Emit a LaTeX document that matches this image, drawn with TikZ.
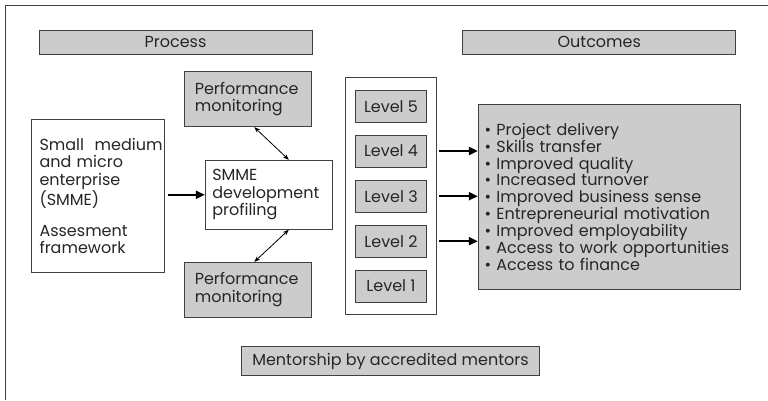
\documentclass[tikz,border=0pt]{standalone}
\usepackage{fontspec}
\setmainfont{Poppins}
\usetikzlibrary{arrows.meta}
\definecolor{edge}{HTML}{404040}
\definecolor{boxfill}{HTML}{CCCCCC}
\begin{document}
\begin{tikzpicture}[x=1pt,y=-1pt,
  box/.style={draw=edge, line width=0.9pt, inner sep=0pt, fill=white,
    font=\fontsize{16}{17.6}\selectfont, text=black!85},
  gbox/.style={box, fill=boxfill},
  txtbox/.style={align=left, text width=#1},
  bigarrow/.style={line width=2pt, -{Triangle[length=9pt,width=8pt]}},
  twoway/.style={line width=0.8pt, {Stealth[length=6pt,width=4.5pt]}-{Stealth[length=6pt,width=4.5pt]}}]
\useasboundingbox (0,0) rectangle (768,400);
\draw[edge, line width=0.9pt] (5,400) -- (5,5) -- (768,5);

\node[gbox, minimum width=273, minimum height=24] (proc) at (175.5,42) {Process};
\node[gbox, minimum width=273, minimum height=24] (outc) at (599.3,42) {Outcomes};

\node[gbox, minimum width=127, minimum height=55, txtbox=107] (pm1) at (248.3,99.2) {Performance\\monitoring};
\node[gbox, minimum width=127, minimum height=55, txtbox=107] (pm2) at (248.3,289.8) {Performance\\monitoring};

\node[box, minimum width=133.4, minimum height=153.3, txtbox=117] (small) at (98,196)
  {Small~ medium\\and micro\\enterprise\\(SMME)\\[13pt]Assesment\\framework};

\node[box, minimum width=127, minimum height=69, txtbox=113] (smme) at (268.8,194.8)
  {SMME\\development\\profiling};

\node[box, minimum width=91.4, minimum height=236.6] (lev) at (391,196) {};
\node[gbox, minimum width=71.4, minimum height=32] (l5) at (391,106.3) {Level 5};
\node[gbox, minimum width=71.4, minimum height=32] (l4) at (391,151) {Level 4};
\node[gbox, minimum width=71.4, minimum height=32] (l3) at (391,196.2) {Level 3};
\node[gbox, minimum width=71.4, minimum height=32] (l2) at (391,241.2) {Level 2};
\node[gbox, minimum width=71.4, minimum height=32] (l1) at (391,286) {Level 1};

\node[gbox, minimum width=262.4, minimum height=185, txtbox=250,
  font=\fontsize{16}{16.9}\selectfont] (res) at (609.5,196.8)
  {\textbullet\ Project delivery\\
   \textbullet\ Skills transfer\\
   \textbullet\ Improved quality\\
   \textbullet\ Increased turnover\\
   \textbullet\ Improved business sense\\
   \textbullet\ Entrepreneurial motivation\\
   \textbullet\ Improved employability\\
   \textbullet\ Access to work opportunities\\
   \textbullet\ Access to finance\\[8pt]};

\node[gbox, minimum width=297.6, minimum height=29.4] (ment) at (390.5,361) {Mentorship by accredited mentors};

\draw[bigarrow] ([xshift=3pt]small.east |- smme.west) -- (smme.west);
\draw[bigarrow] ([xshift=2pt]lev.east |- l4) -- (res.west |- l4);
\draw[bigarrow] ([xshift=2pt]lev.east |- l3) -- (res.west |- l3);
\draw[bigarrow] ([xshift=2pt]lev.east |- l2) -- (res.west |- l2);

\draw[twoway] ([xshift=6pt]pm1.south) -- ([xshift=20pt]smme.north);
\draw[twoway] ([xshift=20pt]smme.south) -- ([xshift=6pt]pm2.north);
\end{tikzpicture}
\end{document}
